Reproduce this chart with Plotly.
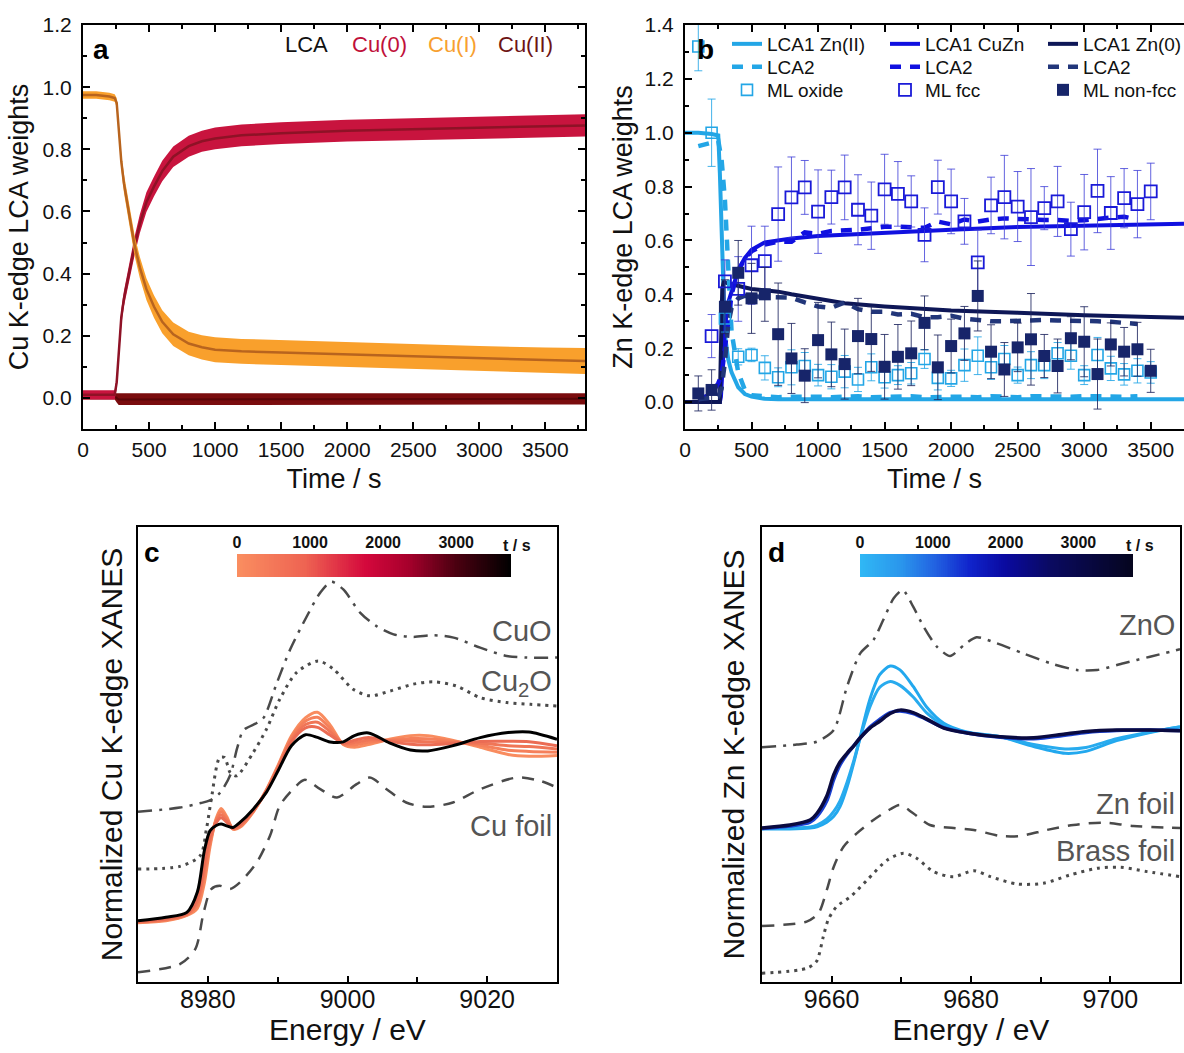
import plotly.graph_objects as go

FONT = "Liberation Sans, Arial, Helvetica, sans-serif"
W, H = 1184, 1053

# ---------------- panel a : Cu K-edge LCA weights ----------------
t_a = [0, 100, 200, 240, 255, 270, 290, 310, 333, 360, 391, 430, 480, 537, 600,
       683, 800, 900, 1000, 1200, 1500, 2000, 2500, 3000, 3500, 3800]
cu0 = [0.01, 0.01, 0.01, 0.01, 0.05, 0.15, 0.26, 0.32, 0.37, 0.43, 0.49, 0.56, 0.63,
       0.68, 0.73, 0.776, 0.81, 0.826, 0.835, 0.845, 0.852, 0.86, 0.865, 0.87, 0.875, 0.877]
cu0_err = [0.015, 0.015, 0.015, 0.015, 0.02, 0.02, 0.025, 0.025, 0.028, 0.03, 0.03, 0.03, 0.032,
           0.032, 0.033, 0.033, 0.034, 0.034, 0.035, 0.035, 0.035, 0.035, 0.035, 0.036, 0.036, 0.036]
cu1 = [0.975, 0.975, 0.97, 0.965, 0.95, 0.86, 0.76, 0.69, 0.637, 0.565, 0.49, 0.42, 0.35,
       0.294, 0.245, 0.205, 0.175, 0.163, 0.155, 0.15, 0.146, 0.14, 0.132, 0.127, 0.122, 0.119]
cu1_err = [0.012, 0.012, 0.012, 0.012, 0.015, 0.02, 0.025, 0.03, 0.03, 0.032, 0.033, 0.034, 0.035,
           0.036, 0.037, 0.038, 0.038, 0.039, 0.04, 0.04, 0.04, 0.04, 0.04, 0.04, 0.04, 0.042]
cu2 = [0.005, 0.005, 0.005, 0.005, 0.0, -0.005, -0.005, -0.005, -0.005, -0.005, -0.005, -0.005, -0.005,
       -0.005, -0.005, -0.004, -0.004, -0.004, -0.004, -0.003, -0.003, -0.003, -0.003, -0.003, -0.003, -0.003]
cu2_err = [0.01, 0.01, 0.01, 0.01, 0.015, 0.018, 0.018, 0.018, 0.018, 0.018, 0.018, 0.018, 0.018,
           0.018, 0.018, 0.018, 0.018, 0.018, 0.018, 0.018, 0.018, 0.018, 0.018, 0.018, 0.018, 0.018]

# ---------------- panel b : Zn K-edge LCA / ML weights ----------------
t_lca1 = [0, 100, 200, 250, 262, 270, 280, 290, 300, 325, 350, 400, 450, 500, 600,
          700, 800, 1000, 1200, 1500, 2000, 2500, 3000, 3500, 3750]
lca1_zn2 = [1.0, 1.0, 0.995, 0.99, 0.85, 0.72, 0.55, 0.38, 0.25, 0.158, 0.11, 0.055, 0.03,
            0.02, 0.012, 0.01, 0.01, 0.01, 0.01, 0.01, 0.01, 0.01, 0.01, 0.01, 0.01]
lca1_cuzn = [0.0, 0.0, 0.0, 0.0, 0.0, 0.02, 0.1, 0.2, 0.28, 0.37, 0.41, 0.49, 0.535,
             0.565, 0.593, 0.6, 0.607, 0.617, 0.622, 0.63, 0.64, 0.65, 0.656, 0.66, 0.662]
lca1_zn0 = [0.0, 0.0, 0.0, 0.0, 0.0, 0.2, 0.42, 0.445, 0.445, 0.44, 0.437, 0.43, 0.425,
            0.42, 0.415, 0.41, 0.40, 0.383, 0.367, 0.355, 0.34, 0.332, 0.322, 0.316, 0.313]

t_lca2 = [100, 200, 250, 275, 300, 325, 350, 400, 450, 500,
          600, 700, 800, 900, 1000, 1100, 1200, 1300, 1400, 1500,
          1600, 1700, 1800, 1900, 2000, 2100, 2200, 2300, 2400, 2500,
          2600, 2700, 2800, 2900, 3000, 3100, 3200, 3300, 3400]
lca2_zn2 = [0.95, 0.965, 0.97, 0.9, 0.75, 0.5, 0.26, 0.11, 0.045, 0.025,
            0.02, 0.018, 0.02, 0.022, 0.02, 0.018, 0.02, 0.022, 0.018, 0.02,
            0.02, 0.022, 0.018, 0.02, 0.022, 0.02, 0.018, 0.022, 0.02, 0.018,
            0.022, 0.02, 0.018, 0.02, 0.022, 0.02, 0.018, 0.02, 0.022]
lca2_cuzn = [0.01, 0.03, 0.07, 0.1, 0.2, 0.32, 0.4, 0.49, 0.53, 0.56,
             0.585, 0.595, 0.595, 0.63, 0.625, 0.635, 0.636, 0.64, 0.645, 0.651,
             0.651, 0.65, 0.647, 0.67, 0.66, 0.678, 0.67, 0.678, 0.682, 0.68,
             0.676, 0.676, 0.676, 0.673, 0.675, 0.682, 0.685, 0.688, 0.678]
lca2_zn0 = [0.01, 0.015, 0.02, 0.05, 0.15, 0.29, 0.35, 0.385, 0.395, 0.392,
            0.39, 0.39, 0.388, 0.37, 0.355, 0.35, 0.37, 0.345, 0.335, 0.335,
            0.325, 0.328, 0.315, 0.315, 0.32, 0.31, 0.305, 0.3, 0.3, 0.302,
            0.305, 0.305, 0.303, 0.303, 0.3, 0.3, 0.298, 0.292, 0.29]

t_ml = [100, 200, 300, 400, 500, 600, 700, 800, 900, 1000,
        1100, 1200, 1300, 1400, 1500, 1600, 1700, 1800, 1900, 2000,
        2100, 2200, 2300, 2400, 2500, 2600, 2700, 2800, 2900, 3000,
        3100, 3200, 3300, 3400, 3500]
ml_oxide = [1.32, 1.0, 0.31, 0.168, 0.175, 0.127, 0.092, 0.129, 0.134, 0.10,
            0.094, 0.113, 0.084, 0.129, 0.092, 0.10, 0.107, 0.16, 0.09, 0.088,
            0.137, 0.172, 0.129, 0.16, 0.10, 0.137, 0.137, 0.181, 0.172, 0.10,
            0.175, 0.125, 0.103, 0.116, 0.11]
ml_oxide_err = [0.09, 0.125, 0.05, 0.03, 0.025, 0.045, 0.035, 0.065, 0.05, 0.04,
                0.045, 0.06, 0.045, 0.05, 0.04, 0.035, 0.04, 0.035, 0.045, 0.03,
                0.06, 0.07, 0.045, 0.05, 0.03, 0.05, 0.05, 0.04, 0.05, 0.035,
                0.065, 0.045, 0.04, 0.045, 0.04]
ml_fcc = [None, 0.245, 0.448, 0.42, 0.508, 0.523, 0.698, 0.76, 0.797, 0.707,
          0.761, 0.797, 0.714, 0.692, 0.79, 0.773, 0.745, 0.621, 0.798, 0.745,
          0.671, 0.519, 0.73, 0.761, 0.726, 0.687, 0.72, 0.745, 0.642, 0.705,
          0.784, 0.702, 0.757, 0.735, 0.782]
ml_fcc_err = [0, 0.08, 0.08, 0.12, 0.145, 0.13, 0.175, 0.15, 0.1, 0.155,
              0.1, 0.12, 0.13, 0.125, 0.13, 0.12, 0.095, 0.1, 0.1, 0.12,
              0.085, 0.12, 0.105, 0.155, 0.13, 0.18, 0.08, 0.13, 0.1, 0.14,
              0.155, 0.135, 0.11, 0.125, 0.105]
ml_nonfcc = [0.032, 0.045, 0.354, 0.48, 0.385, 0.40, 0.252, 0.162, 0.098, 0.23,
             0.177, 0.141, 0.245, 0.234, 0.131, 0.168, 0.181, 0.294, 0.129, 0.208,
             0.255, 0.394, 0.187, 0.121, 0.203, 0.233, 0.171, 0.134, 0.237, 0.224,
             0.104, 0.214, 0.187, 0.196, 0.116]
ml_nonfcc_err = [0.065, 0.075, 0.1, 0.12, 0.13, 0.1, 0.19, 0.13, 0.1, 0.14,
                 0.12, 0.13, 0.14, 0.12, 0.12, 0.12, 0.12, 0.1, 0.12, 0.1,
                 0.1, 0.13, 0.1, 0.1, 0.09, 0.17, 0.08, 0.1, 0.08, 0.13,
                 0.13, 0.08, 0.09, 0.1, 0.08]

# ---------------- panel c : Cu K-edge XANES ----------------
e_cu = [8970, 8974, 8977, 8978.5, 8979.5, 8980.3, 8981.2, 8981.9, 8982.7, 8983.6,
        8984.6, 8986.5, 8988.4, 8990, 8992, 8994, 8995.7, 8997.5, 8999.4, 9001,
        9003, 9006, 9009, 9011.5, 9015, 9019, 9023, 9026, 9030]
cu_t0 = [-0.02, -0.01, 0.02, 0.06, 0.2, 0.4, 0.56, 0.615, 0.57, 0.5,
         0.51, 0.595, 0.72, 0.85, 1.02, 1.12, 1.15, 1.08, 0.97, 0.955,
         0.97, 1.0, 1.02, 1.02, 0.995, 0.955, 0.915, 0.905, 0.91]
cu_t1 = [-0.018, -0.006, 0.023, 0.078, 0.236, 0.418, 0.552, 0.598, 0.56, 0.502,
         0.515, 0.598, 0.717, 0.844, 1.009, 1.101, 1.122, 1.061, 0.973, 0.968,
         0.983, 0.996, 1.004, 1.003, 0.989, 0.966, 0.939, 0.932, 0.928]
cu_t2 = [-0.016, -0.002, 0.027, 0.096, 0.272, 0.436, 0.544, 0.58, 0.549, 0.504,
         0.521, 0.601, 0.714, 0.838, 0.998, 1.082, 1.094, 1.042, 0.976, 0.981,
         0.996, 0.992, 0.988, 0.986, 0.982, 0.977, 0.964, 0.959, 0.946]
cu_t3 = [-0.014, 0.002, 0.03, 0.114, 0.308, 0.454, 0.536, 0.563, 0.539, 0.505,
         0.526, 0.605, 0.712, 0.832, 0.987, 1.063, 1.066, 1.023, 0.979, 0.994,
         1.009, 0.988, 0.972, 0.969, 0.976, 0.987, 0.988, 0.986, 0.964]
cu_final = [-0.01, 0.01, 0.037, 0.15, 0.38, 0.49, 0.52, 0.528, 0.518, 0.509,
            0.537, 0.611, 0.706, 0.82, 0.965, 1.025, 1.01, 0.985, 0.985, 1.02,
            1.035, 0.98, 0.94, 0.935, 0.963, 1.009, 1.037, 1.04, 1.0]

e_cuo = [8970, 8976, 8979, 8980.3, 8981.7, 8983.2, 8984.2, 8985.1, 8987.0, 8988.0,
         8989.9, 8991.8, 8994.2, 8996.1, 8997.7, 8999.4, 9001.8, 9004.1, 9006.6, 9009.4,
         9012.3, 9015.2, 9019.0, 9022.8, 9025.7, 9030]
cuo = [0.596, 0.62, 0.645, 0.66, 0.70, 0.80, 0.95, 1.05, 1.09, 1.12,
       1.315, 1.5, 1.685, 1.815, 1.875, 1.833, 1.704, 1.63, 1.583, 1.569,
       1.578, 1.565, 1.509, 1.463, 1.454, 1.454]
e_cu2o = [8970, 8976, 8978.9, 8979.8, 8980.5, 8981.7, 8982.4, 8983.2, 8984.1, 8986.5,
          8988.4, 8990.3, 8992.7, 8995.8, 8998.0, 9000.8, 9003.2, 9006.1, 9009.4, 9012.3,
          9015.6, 9019.0, 9022.8, 9026.2, 9030]
cu2o = [0.278, 0.293, 0.352, 0.5, 0.667, 0.898, 0.898, 0.815, 0.796, 0.926,
        1.056, 1.222, 1.37, 1.435, 1.389, 1.278, 1.241, 1.268, 1.306, 1.319,
        1.296, 1.231, 1.204, 1.194, 1.185]
e_cufoil = [8970, 8976, 8978.2, 8979.4, 8980.5, 8981.7, 8983.2, 8984.6, 8987.0, 8988.9,
            8990.3, 8992.2, 8993.9, 8996.1, 8998.5, 9001.3, 9003.2, 9005.6, 9008.4, 9011.3,
            9015.1, 9019.0, 9024.3, 9027.6, 9030]
cufoil = [-0.296, -0.25, -0.167, 0.037, 0.167, 0.185, 0.167, 0.204, 0.315, 0.463,
          0.63, 0.722, 0.774, 0.722, 0.676, 0.75, 0.787, 0.722, 0.648, 0.624,
          0.648, 0.722, 0.787, 0.768, 0.731]

# ---------------- panel d : Zn K-edge XANES ----------------
e_zn = [9650, 9654, 9656.9, 9657.9, 9659.3, 9660.3, 9661.2, 9662.2, 9663.2, 9664.1,
        9665.5, 9666.9, 9668.4, 9669.8, 9671.7, 9673.6, 9676.1, 9679.4, 9684.2, 9689,
        9693.5, 9696.5, 9700.9, 9705.7, 9710]
zn_t0 = [-0.01, -0.01, 0.0, 0.013, 0.06, 0.12, 0.22, 0.42, 0.68, 0.94,
         1.33, 1.58, 1.67, 1.63, 1.46, 1.25, 1.08, 0.99, 0.94, 0.84,
         0.77, 0.79, 0.9, 0.985, 1.045]
zn_t1 = [-0.005, 0.0, 0.01, 0.03, 0.09, 0.17, 0.28, 0.47, 0.7, 0.93,
         1.25, 1.45, 1.51, 1.47, 1.35, 1.19, 1.06, 0.985, 0.94, 0.86,
         0.815, 0.83, 0.92, 0.99, 1.04]
zn_t2 = [-0.005, 0.02, 0.06, 0.12, 0.28, 0.5, 0.65, 0.76, 0.85, 0.93,
         1.04, 1.12, 1.19, 1.205, 1.18, 1.12, 1.035, 0.98, 0.935, 0.92,
         0.955, 0.985, 1.005, 1.01, 1.005]
zn_final = [0.0, 0.03, 0.082, 0.152, 0.33, 0.55, 0.68, 0.77, 0.85, 0.93,
            1.03, 1.1, 1.18, 1.215, 1.19, 1.125, 1.03, 0.98, 0.94, 0.93,
            0.97, 0.995, 1.01, 1.01, 1.003]

e_zno = [9650, 9655, 9657.9, 9660.3, 9662.2, 9664.1, 9666.0, 9667.4, 9668.9, 9670.2,
         9671.7, 9673.2, 9675.1, 9677.0, 9679.0, 9680.8, 9683.7, 9687.5, 9691.4, 9695.2,
         9698.1, 9701.9, 9705.7, 9710]
zno = [0.832, 0.86, 0.89, 1.01, 1.457, 1.8, 1.938, 2.144, 2.368, 2.454,
       2.281, 2.075, 1.869, 1.773, 1.887, 1.966, 1.904, 1.8, 1.698, 1.629,
       1.629, 1.698, 1.766, 1.842]
e_znfoil = [9650, 9656.4, 9658.1, 9659.3, 9660.3, 9661.7, 9663.6, 9666.0, 9668.4, 9669.8,
            9671.7, 9674.1, 9677.5, 9680.4, 9684.2, 9687.1, 9690.9, 9694.7, 9699.0, 9703.3,
            9710]
znfoil = [-1.01, -0.966, -0.879, -0.639, -0.399, -0.193, -0.055, 0.082, 0.193, 0.237,
          0.152, 0.031, 0.0, -0.02, -0.082, -0.082, -0.02, 0.031, 0.055, 0.021,
          0.0]
e_brass = [9650, 9656.4, 9657.8, 9658.8, 9659.5, 9660.7, 9662.7, 9665.1, 9668.0, 9670.3,
           9672.2, 9674.6, 9677.5, 9680.4, 9682.8, 9686.6, 9690.4, 9694.2, 9698.1, 9701.4,
           9705.3, 9710]
brass = [-1.498, -1.447, -1.378, -1.12, -0.948, -0.811, -0.708, -0.536, -0.33, -0.261,
         -0.312, -0.45, -0.502, -0.44, -0.502, -0.577, -0.57, -0.485, -0.416, -0.405,
         -0.45, -0.502]

# colour-bar ramp (time axis of the spectra series)
cbar_t = list(range(0, 3751, 25))
cbar_ticks = [0, 1000, 2000, 3000]

CU_SCALE = [[0, '#FA8E60'], [0.25, '#EE6352'], [0.47, '#D4083C'], [0.62, '#A8002C'],
            [0.8, '#4A0010'], [1, '#000000']]
ZN_SCALE = [[0, '#30B8F5'], [0.15, '#2A96EC'], [0.27, '#2264E2'], [0.4, '#1024CC'],
            [0.53, '#0A0AA0'], [0.7, '#0A0A60'], [1, '#05051E']]

fig = go.Figure()


def band(x, y, e, color, xa, ya):
    lo = [v - d for v, d in zip(y, e)]
    hi = [v + d for v, d in zip(y, e)]
    fig.add_trace(go.Scatter(x=x, y=lo, mode='lines', line=dict(width=0, color=color),
                             xaxis=xa, yaxis=ya, showlegend=False, hoverinfo='skip'))
    fig.add_trace(go.Scatter(x=x, y=hi, mode='lines', line=dict(width=0, color=color),
                             fill='tonexty', fillcolor=color, xaxis=xa, yaxis=ya,
                             showlegend=False, hoverinfo='skip'))


# panel a
band(t_a, cu2, cu2_err, '#7A0C0E', 'x', 'y')
fig.add_trace(go.Scatter(x=t_a, y=cu2, mode='lines', line=dict(color='#5A0508', width=2),
                         xaxis='x', yaxis='y', showlegend=False))
band(t_a, cu0, cu0_err, '#C8143E', 'x', 'y')
fig.add_trace(go.Scatter(x=t_a, y=cu0, mode='lines', line=dict(color='#8E1226', width=2.5),
                         xaxis='x', yaxis='y', showlegend=False))
band(t_a, cu1, cu1_err, '#F9A02C', 'x', 'y')
fig.add_trace(go.Scatter(x=t_a, y=cu1, mode='lines', line=dict(color='#B8641E', width=2.5),
                         xaxis='x', yaxis='y', showlegend=False))

# panel b
C_LB, C_B, C_N = '#23A6E6', '#1010E0', '#0E1757'
C_N2 = '#22367A'
for name, yv, c in [('LCA1 Zn(II)', lca1_zn2, C_LB), ('LCA1 CuZn', lca1_cuzn, C_B),
                    ('LCA1 Zn(0)', lca1_zn0, C_N)]:
    fig.add_trace(go.Scatter(x=t_lca1, y=yv, mode='lines', name=name,
                             line=dict(color=c, width=4), xaxis='x2', yaxis='y2', legend='legend'))
for yv, c in [(lca2_zn2, C_LB), (lca2_cuzn, C_B), (lca2_zn0, C_N2)]:
    fig.add_trace(go.Scatter(x=t_lca2, y=yv, mode='lines', name='LCA2',
                             line=dict(color=c, width=4.5, dash='11px,9px'),
                             xaxis='x2', yaxis='y2', legend='legend2'))
fig.add_trace(go.Scatter(x=t_ml, y=ml_oxide, mode='markers', name='ML oxide',
                         marker=dict(symbol='square-open', size=11, color=C_LB, line=dict(width=1.6)),
                         error_y=dict(type='data', array=ml_oxide_err, color='rgba(35,166,230,0.85)',
                                      thickness=1, width=4),
                         xaxis='x2', yaxis='y2', legend='legend3'))
fig.add_trace(go.Scatter(x=t_ml, y=ml_fcc, mode='markers', name='ML fcc',
                         marker=dict(symbol='square-open', size=12, color='#1A1AD8', line=dict(width=1.8)),
                         error_y=dict(type='data', array=ml_fcc_err, color='rgba(60,60,215,0.8)',
                                      thickness=1, width=4),
                         xaxis='x2', yaxis='y2', legend='legend3'))
fig.add_trace(go.Scatter(x=t_ml, y=ml_nonfcc, mode='markers', name='ML non-fcc',
                         marker=dict(symbol='square', size=12, color='#17256A'),
                         error_y=dict(type='data', array=ml_nonfcc_err, color='rgba(30,38,95,0.85)',
                                      thickness=1, width=4),
                         xaxis='x2', yaxis='y2', legend='legend3'))

# panel c
REF = '#4A4A4A'
fig.add_trace(go.Scatter(x=e_cuo, y=cuo, mode='lines', line=dict(color=REF, width=2.5, dash='14px,7px,3px,7px', shape='spline', smoothing=0.8),
                         xaxis='x3', yaxis='y3', showlegend=False))
fig.add_trace(go.Scatter(x=e_cu2o, y=cu2o, mode='lines', line=dict(color=REF, width=3, dash='3px,5px', shape='spline', smoothing=0.8),
                         xaxis='x3', yaxis='y3', showlegend=False))
fig.add_trace(go.Scatter(x=e_cufoil, y=cufoil, mode='lines', line=dict(color=REF, width=2.5, dash='12px,9px', shape='spline', smoothing=0.8),
                         xaxis='x3', yaxis='y3', showlegend=False))
for yv, c in [(cu_t0, '#F98C5F'), (cu_t1, '#F5805B'), (cu_t2, '#F07657'), (cu_t3, '#EB6C54')]:
    fig.add_trace(go.Scatter(x=e_cu, y=yv, mode='lines', line=dict(color=c, width=3, shape='spline', smoothing=0.8),
                             xaxis='x3', yaxis='y3', showlegend=False))
fig.add_trace(go.Scatter(x=e_cu, y=cu_final, mode='lines', line=dict(color='#000000', width=3, shape='spline', smoothing=0.8),
                         xaxis='x3', yaxis='y3', showlegend=False))

# panel d
fig.add_trace(go.Scatter(x=e_zno, y=zno, mode='lines', line=dict(color=REF, width=2.5, dash='14px,7px,3px,7px', shape='spline', smoothing=0.7),
                         xaxis='x4', yaxis='y4', showlegend=False))
fig.add_trace(go.Scatter(x=e_znfoil, y=znfoil, mode='lines', line=dict(color=REF, width=2.5, dash='12px,9px', shape='spline', smoothing=0.8),
                         xaxis='x4', yaxis='y4', showlegend=False))
fig.add_trace(go.Scatter(x=e_brass, y=brass, mode='lines', line=dict(color=REF, width=3, dash='3px,5px', shape='spline', smoothing=0.8),
                         xaxis='x4', yaxis='y4', showlegend=False))
for yv, c, w in [(zn_t0, '#22A8EE', 3), (zn_t1, '#28ABEE', 3), (zn_t2, '#1A3FD0', 3.5), (zn_final, '#0A0A40', 3.5)]:
    fig.add_trace(go.Scatter(x=e_zn, y=yv, mode='lines', line=dict(color=c, width=w, shape='spline', smoothing=0.8),
                             xaxis='x4', yaxis='y4', showlegend=False))

# colour bars
fig.add_trace(go.Heatmap(x=cbar_t, y=[0], z=[cbar_t], colorscale=CU_SCALE, zmin=0, zmax=3750,
                         showscale=False, xaxis='x5', yaxis='y5', hoverinfo='skip'))
fig.add_trace(go.Heatmap(x=cbar_t, y=[0], z=[cbar_t], colorscale=ZN_SCALE, zmin=0, zmax=3750,
                         showscale=False, xaxis='x6', yaxis='y6', hoverinfo='skip'))


def px_x(v):
    return v / W


def px_y(v):
    return 1 - v / H


AX = dict(showline=True, linecolor='black', linewidth=2, showgrid=False, zeroline=False,
          ticks='inside', ticklen=7, tickwidth=1.5, tickcolor='black', automargin=False)
TOPDOM = [px_y(429), px_y(25)]
BOTDOM = [px_y(982), px_y(527)]


def tfont(s):
    return dict(family=FONT, size=s, color='#111')


layout_axes = dict(
    xaxis=dict(AX, domain=[px_x(83), px_x(585)], range=[0, 3800], anchor='y', dtick=500, tick0=0,
               mirror='ticks', minor=dict(ticks='inside', ticklen=4, dtick=250, tickwidth=1.5),
               tickfont=tfont(21), ticklabelstandoff=1,
               title=dict(text='Time / s', font=tfont(27), standoff=9)),
    yaxis=dict(AX, domain=TOPDOM, range=[-0.1, 1.2], anchor='x', dtick=0.2, tick0=0, tickformat='.1f',
               mirror='ticks', minor=dict(ticks='inside', ticklen=4, dtick=0.1, tickwidth=1.5),
               tickfont=tfont(21), ticklabelstandoff=5,
               title=dict(text='Cu K-edge LCA weights', font=tfont(27), standoff=6)),
    xaxis2=dict(AX, domain=[px_x(685), 1.0], range=[0, 3750], anchor='y2', dtick=500, tick0=0,
                mirror='ticks', minor=dict(ticks='inside', ticklen=4, dtick=250, tickwidth=1.5),
                tickfont=tfont(21), ticklabelstandoff=1,
                title=dict(text='Time / s', font=tfont(27), standoff=9)),
    yaxis2=dict(AX, domain=TOPDOM, range=[-0.1, 1.4], anchor='x2', dtick=0.2, tick0=0, tickformat='.1f',
                mirror=False, minor=dict(ticks='inside', ticklen=4, dtick=0.1, tickwidth=1.5),
                tickfont=tfont(21), ticklabelstandoff=5,
                title=dict(text='Zn K-edge LCA weights', font=tfont(27), standoff=4)),
    xaxis3=dict(AX, domain=[px_x(138), px_x(557)], range=[8970, 9030], anchor='y3', dtick=20, tick0=0,
                mirror=True, ticklen=6, minor=dict(ticks='inside', ticklen=5, dtick=10, tickwidth=1.5),
                tickfont=tfont(25), ticklabelstandoff=-6,
                title=dict(text='Energy / eV', font=tfont(30), standoff=7)),
    yaxis3=dict(AX, domain=BOTDOM, range=[-0.35, 2.18], anchor='x3', mirror=True, ticks='',
                showticklabels=False,
                title=dict(text='Normalized Cu K-edge XANES', font=tfont(30), standoff=5)),
    xaxis4=dict(AX, domain=[px_x(762), px_x(1180)], range=[9650, 9710], anchor='y4', dtick=20, tick0=0,
                mirror=True, ticklen=6, minor=dict(ticks='inside', ticklen=5, dtick=10, tickwidth=1.5),
                tickfont=tfont(25), ticklabelstandoff=-6,
                title=dict(text='Energy / eV', font=tfont(30), standoff=7)),
    yaxis4=dict(AX, domain=BOTDOM, range=[-1.588, 3.103], anchor='x4', mirror=True, ticks='',
                showticklabels=False,
                title=dict(text='Normalized Zn K-edge XANES', font=tfont(30), standoff=7)),
    xaxis5=dict(domain=[px_x(237), px_x(511)], range=[0, 3750], anchor='y5', side='top',
                tickvals=cbar_ticks, ticks='', showline=False, showgrid=False, zeroline=False,
                automargin=False,
                tickfont=dict(family=FONT, size=16, color='#111', weight='bold'), ticklabelstandoff=2),
    yaxis5=dict(domain=[px_y(577), px_y(554)], range=[-0.5, 0.5], anchor='x5', visible=False,
                automargin=False),
    xaxis6=dict(domain=[px_x(860), px_x(1133)], range=[0, 3750], anchor='y6', side='top',
                tickvals=cbar_ticks, ticks='', showline=False, showgrid=False, zeroline=False,
                automargin=False,
                tickfont=dict(family=FONT, size=16, color='#111', weight='bold'), ticklabelstandoff=2),
    yaxis6=dict(domain=[px_y(577), px_y(554)], range=[-0.5, 0.5], anchor='x6', visible=False,
                automargin=False),
)

LEG = dict(orientation='h', bgcolor='rgba(0,0,0,0)', font=dict(family=FONT, size=19, color='#111'),
           entrywidth=113, entrywidthmode='pixels', xanchor='left', yanchor='middle',
           traceorder='normal', itemclick=False, itemdoubleclick=False, tracegroupgap=0)

annotations = []


def ann(text, x, y, size, color='#111', bold=False, xanchor='center', xref='paper', yref='paper'):
    annotations.append(dict(text=text, x=x, y=y, xref=xref, yref=yref, showarrow=False,
                            xanchor=xanchor, yanchor='middle',
                            font=dict(family=FONT, size=size, color=color, weight='bold' if bold else 'normal')))


ann('a', px_x(101), px_y(50), 28, '#000', True)
ann('b', px_x(705), px_y(50), 28, '#000', True)
ann('c', px_x(152), px_y(552), 28, '#000', True)
ann('d', px_x(776), px_y(552), 28, '#000', True)
ann('LCA', px_x(307), px_y(45), 22, '#111')
ann('Cu(0)', px_x(379), px_y(45), 22, '#C0103A')
ann('Cu(I)', px_x(452), px_y(45), 22, '#F7A030')
ann('Cu(II)', px_x(525), px_y(45), 22, '#6E1414')
ann('t / s', px_x(517), px_y(545), 16, '#111', True)
ann('t / s', px_x(1140), px_y(545), 16, '#111', True)
ann('CuO', 9029.6, 1.6, 29, '#555', xanchor='right', xref='x3', yref='y3')
ann('Cu<sub>2</sub>O', 9029.6, 1.31, 29, '#555', xanchor='right', xref='x3', yref='y3')
ann('Cu foil', 9029.6, 0.52, 29, '#555', xanchor='right', xref='x3', yref='y3')
ann('ZnO', 9709.6, 2.09, 29, '#555', xanchor='right', xref='x4', yref='y4')
ann('Zn foil', 9709.6, 0.247, 29, '#555', xanchor='right', xref='x4', yref='y4')
ann('Brass foil', 9709.6, -0.237, 29, '#555', xanchor='right', xref='x4', yref='y4')

fig.update_layout(
    width=W, height=H, margin=dict(l=0, r=0, t=0, b=0, autoexpand=False),
    paper_bgcolor='white', plot_bgcolor='white',
    font=dict(family=FONT, color='#111'),
    legend=dict(LEG, x=px_x(727), y=px_y(44)),
    legend2=dict(LEG, x=px_x(727), y=px_y(67)),
    legend3=dict(LEG, x=px_x(727), y=px_y(90)),
    annotations=annotations,
    **layout_axes,
)

fig.write_html('out.html')
